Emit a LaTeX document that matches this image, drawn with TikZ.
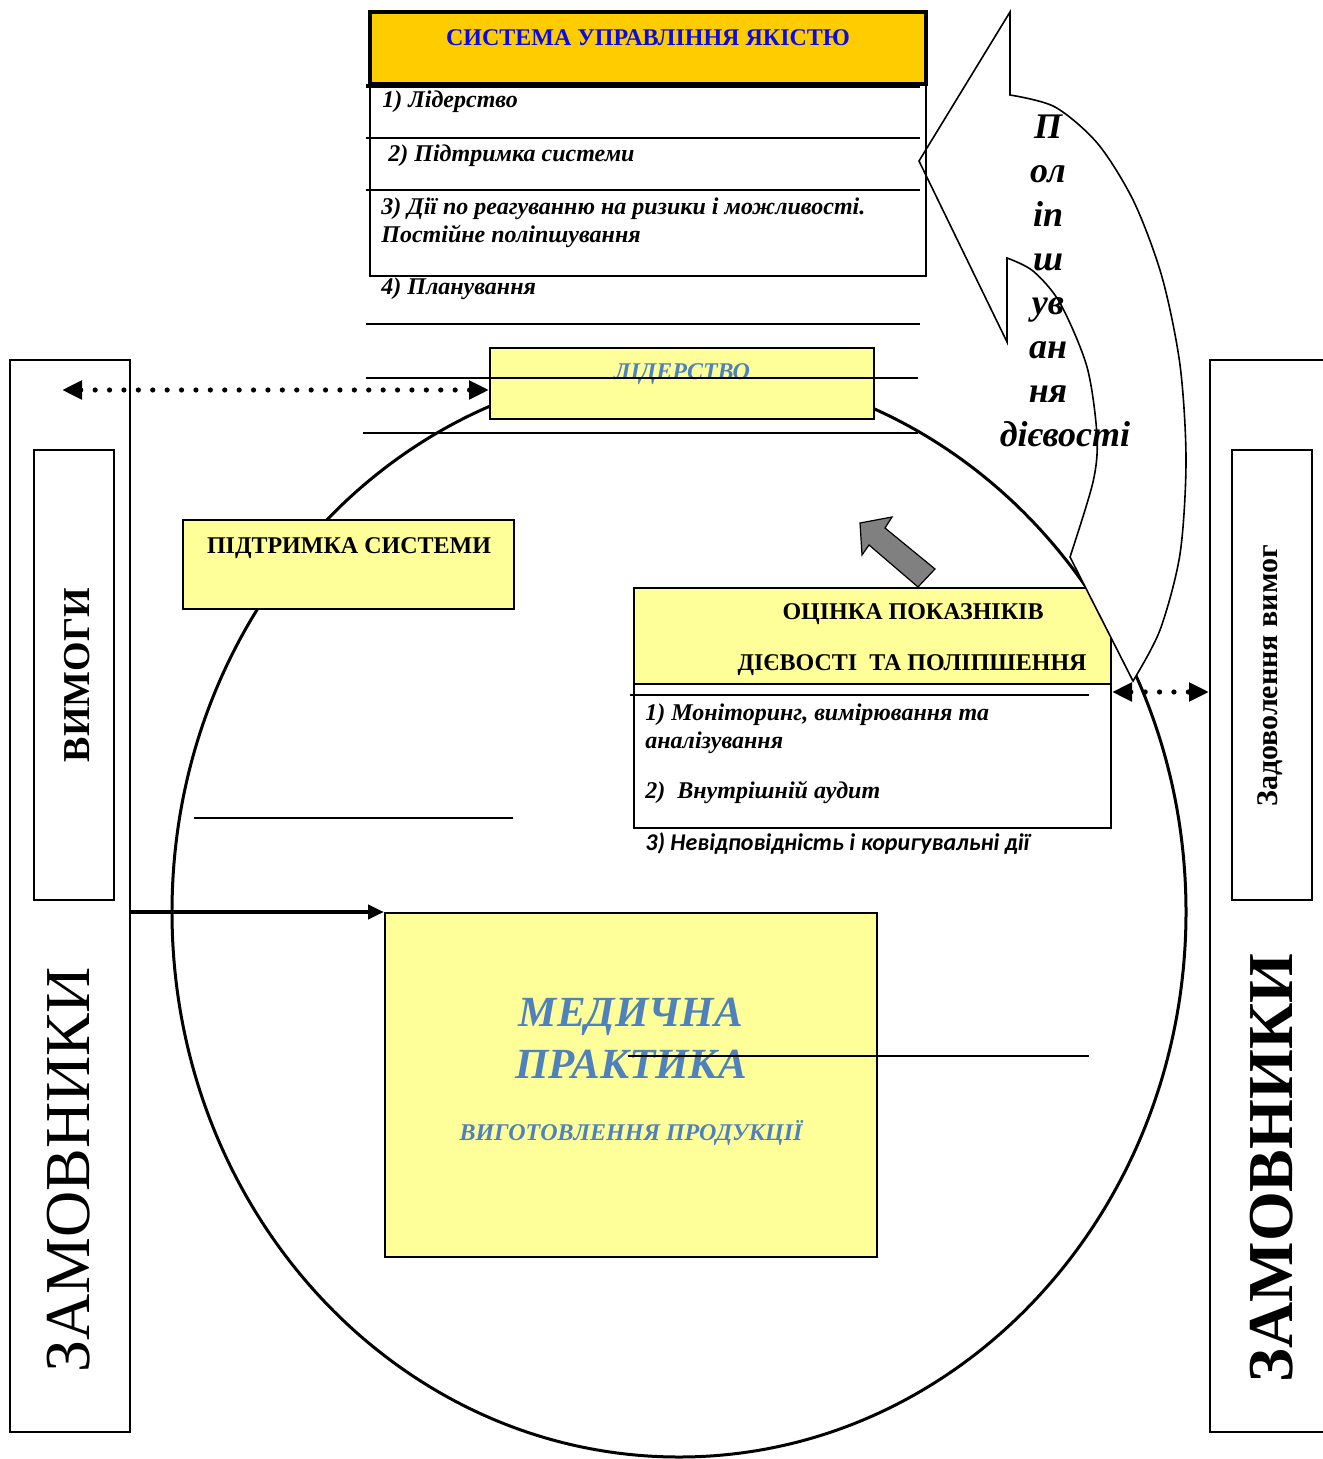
\documentclass[tikz,border=0pt]{standalone}
\usepackage{fontspec}
\setmainfont{Liberation Serif}
\newfontfamily\carlito{Carlito}
\usetikzlibrary{arrows.meta, positioning}
\definecolor{gold}{RGB}{255,204,0}
\definecolor{lemon}{RGB}{255,255,153}
\definecolor{navyblue}{RGB}{10,10,230}
\definecolor{steel}{RGB}{79,129,189}
\definecolor{greyarrow}{RGB}{128,128,128}

\begin{document}
\begin{tikzpicture}[
  x=0.5pt, y=-0.5pt,
  box/.style={draw, line width=1pt, inner sep=0pt},
  ybox/.style={box, fill=lemon},
  item/.style={anchor=base west, inner sep=0pt, font=\fontsize{12}{14}\selectfont\bfseries\itshape},
  head/.style={anchor=base, font=\fontsize{12}{14}\selectfont\bfseries},
  bluetext/.style={anchor=base, text=steel, font=\fontsize{12}{14}\selectfont\bfseries\itshape},
  rule/.style={line width=1pt},
  dotarrow/.style={{Triangle[length=10pt,width=9pt]}-{Triangle[length=10pt,width=9pt]},
                   line width=2.6pt, line cap=round, dash pattern=on 0pt off 7.2pt}
]

\useasboundingbox (0,0) rectangle (1322,1459);

% process circle
\draw[line width=1.5pt] (679,912) ellipse [x radius=253.5pt, y radius=272.5pt];

% customers on both sides
\node[box, minimum width=60pt, minimum height=536pt] (custl) at (70,896) {};
\node[box, minimum width=40pt, minimum height=225pt] (reqs) at (74,675) {};
\node[box, minimum width=65pt, minimum height=536pt] (custr) at (1275,896) {};
\node[box, minimum width=40pt, minimum height=225pt] (satis) at (1272,675) {};

% blocks on the circle
\node[ybox, minimum width=192pt, minimum height=35.5pt] (lead) at (682,383.5) {};
\node[ybox, minimum width=165.5pt, minimum height=44.5pt] (supp) at (348.5,564.5) {};
\node[ybox, minimum width=246pt, minimum height=172pt] (med) at (631,1085) {};
\node[box, fill=white, minimum width=238.5pt, minimum height=72pt] (evalbody) at (872.5,756) {};
\node[ybox, minimum width=238.5pt, minimum height=48pt] (evalhead) at (872.5,636) {};

% curved improvement arrow
\draw[line width=0.8pt, fill=white]
  (1010,12) -- (1010,95)
  -- plot[smooth] coordinates {(1010,95) (1055,107) (1098,144) (1134,202) (1162,277) (1180,365) (1186,460) (1180,554) (1160,630) (1133,681)}
  -- (1070,557)
  -- plot[smooth] coordinates {(1070,557) (1093,482) (1097,436) (1087,367) (1060,303) (1033,271) (1007,258)}
  -- (1007,342) -- (919,161) -- cycle;

% quality management system
\node[box, minimum width=278pt, minimum height=96pt] (qmslist) at (648,180) {};
\node[box, fill=gold, line width=1.6pt, minimum width=278pt, minimum height=36pt] (qms) at (648,48) {};

\node[anchor=base, text=navyblue, font=\fontsize{12}{14}\selectfont\bfseries] (qmstitle) at (648,46) {СИСТЕМА УПРАВЛІННЯ ЯКІСТЮ};
\node[item] (it1) at (382,108) {1) Лідерство};
\node[item] (it2) at (388,162) {2) Підтримка системи};
\node[item] (it3) at (381,215) {3) Дії по реагуванню на ризики і можливості.};
\node[item] (it3b) at (381,243) {Постійне поліпшування};
\node[item] (it4) at (381,295) {4) Планування};

\node[bluetext] (leadlbl) at (682,380) {ЛІДЕРСТВО};
\node[head] (supplbl) at (349,553) {ПІДТРИМКА СИСТЕМИ};

\node[head] (evalt1) at (913,619) {ОЦІНКА ПОКАЗНІКІВ};
\node[head] (evalt2) at (912,670) {ДІЄВОСТІ\ \ ТА ПОЛІПШЕННЯ};
\node[item] (ev1) at (645,720) {1) Моніторинг, вимірювання та};
\node[item] (ev1b) at (645,748) {аналізування};
\node[item] (ev2) at (645,798) {2)\ \ Внутрішній аудит};
\node[item, font=\carlito\fontsize{12}{14}\selectfont\bfseries\itshape] (ev3) at (645,850) {3) Невідповідність і коригувальні дії};

\node[bluetext, font=\fontsize{21.5}{24}\selectfont\bfseries\itshape] (medt1) at (631,1026) {МЕДИЧНА};
\node[bluetext, font=\fontsize{21.5}{24}\selectfont\bfseries\itshape] (medt2) at (631,1078) {ПРАКТИКА};
\node[bluetext] (medt3) at (631,1140) {ВИГОТОВЛЕННЯ ПРОДУКЦІЇ};

\node[rotate=90, font=\fontsize{19}{22}\selectfont\bfseries] (reqslbl) at (77,675) {ВИМОГИ};
\node[rotate=90, font=\fontsize{32}{36}\selectfont] (custllbl) at (69,1170) {ЗАМОВНИКИ};
\node[rotate=90, font=\fontsize{15}{18}\selectfont\bfseries] (satislbl) at (1270,676) {Задоволення вимог};
\node[rotate=90, font=\fontsize{32}{36}\selectfont\bfseries] (custrlbl) at (1272,1168) {ЗАМОВНИКИ};

\node[align=center, font=\fontsize{18}{22}\selectfont\bfseries\itshape] (impr) at (1048,281)
  {П\\ол\\іп\\ш\\ув\\ан\\ня\\\hspace*{17pt}дієвості};

% rules across the picture
\draw[line width=1.6pt] (366,86) -- (920,86);
\foreach \y in {138,190,324}
  \draw[rule] (366,\y) -- (920,\y);
\draw[rule] (366,378) -- (918,378);
\draw[rule] (363,433) -- (918,433);
\draw[rule] (194,818) -- (513,818);
\draw[rule] (630,695) -- (1089,695);
\draw[rule] (628,1056) -- (1089,1056);

% grey arrow
\draw[fill=greyarrow, line width=0.6pt]
  (860,523) -- (892,517) -- (885,528) -- (935,569) -- (918,587) -- (869,545) -- (862,555) -- cycle;

% connectors
\coordinate (reqtip) at (62,390);
\draw[dotarrow] (reqtip) -- (reqtip -| lead.west);
\coordinate (evtap) at ([yshift=-4.5pt]evalbody.north east);
\draw[dotarrow] (evtap) -- (evtap -| custr.west);
\draw[line width=2pt, -{Triangle[length=8pt,width=7pt]}] (custl.east |- med.north west) -- (med.north west);

\end{tikzpicture}
\end{document}
